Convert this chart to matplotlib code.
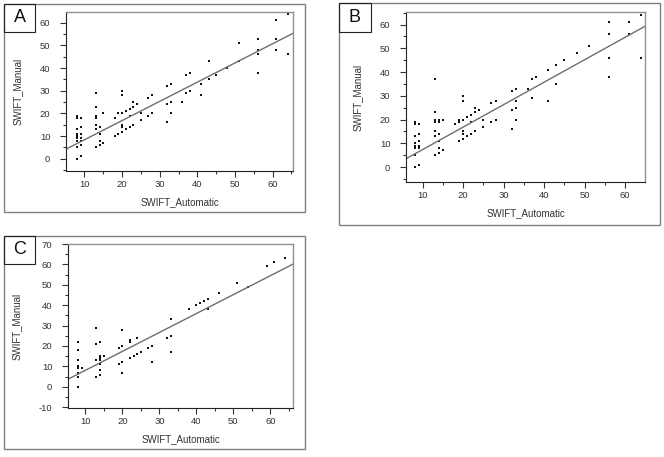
import numpy as np
import matplotlib.pyplot as plt
from matplotlib.patches import Rectangle
from matplotlib.ticker import MultipleLocator

plt.rcParams['font.family'] = ['Liberation Sans', 'DejaVu Sans']
plt.rcParams['axes.unicode_minus'] = False

# panel A
a_x = [8, 8, 8, 8, 8, 8, 8, 8, 8,
       9, 9, 9, 9, 9, 9, 9,
       13, 13, 13, 13, 13, 13, 13,
       14, 14, 14, 14, 15, 15, 18, 18, 19, 19, 19,
       20, 20, 20, 20, 20, 20, 21, 21, 22, 22, 22, 23, 23, 23, 24,
       25, 25, 27, 27, 28, 28, 28, 32, 32, 32, 33, 33, 33, 33, 36,
       37, 37, 38, 38, 41, 41, 43, 43, 45, 48, 51, 51,
       56, 56, 56, 56, 61, 61, 61, 64, 64]
a_y = [0, 5, 8, 9, 10, 11, 13, 18, 19,
       1, 6, 8, 9, 11, 14, 18,
       5, 13, 15, 18, 19, 23, 29,
       6, 8, 11, 14, 7, 20, 10, 18, 11, 20, 20,
       12, 14, 15, 20, 28, 30, 13, 21, 14, 19, 22, 15, 23, 25, 24,
       17, 20, 19, 27, 20, 20, 28, 16, 24, 32, 20, 20, 25, 33, 25,
       29, 37, 30, 38, 28, 33, 35, 43, 37, 40, 43, 51,
       38, 46, 48, 53, 48, 53, 61, 46, 64]

# panel B
b_x = [8, 8, 8, 8, 8, 8, 8, 8, 8,
       9, 9, 9, 9, 9, 9,
       13, 13, 13, 13, 13, 13, 13, 13, 13, 13,
       14, 14, 14, 14, 14, 14, 15, 15, 18, 19, 19, 19,
       20, 20, 20, 20, 20, 20, 21, 21, 22, 22, 22, 23, 23, 23, 24,
       25, 25, 27, 27, 28, 28, 32, 32, 32, 33, 33, 33, 33, 36,
       37, 37, 38, 41, 41, 43, 43, 45, 48, 51,
       56, 56, 56, 56, 61, 61, 64, 64]
b_y = [0, 0, 5, 8, 9, 10, 13, 18, 19,
       1, 8, 9, 11, 14, 18,
       5, 13, 15, 19, 19, 19.5, 20, 20, 23, 37,
       6, 8, 11, 14, 19, 20, 7, 20, 18, 11, 19, 20,
       12, 14, 15, 20, 28, 30, 13, 21, 14, 19, 22, 15, 23, 25, 24,
       17, 20, 19, 27, 20, 28, 16, 24, 32, 20, 25, 28, 33, 33,
       29, 37, 38, 28, 41, 35, 43, 45, 48, 51,
       38, 46, 56, 61, 56, 61, 46, 64]

# panel C
c_x = [8, 8, 8, 8, 8, 8, 8, 8, 9,
       13, 13, 13, 13, 14, 14, 14, 14, 14, 14, 14, 15,
       19, 19, 20, 20, 20, 20, 22, 22, 22, 23, 24, 24, 25, 27, 28, 28,
       32, 33, 33, 33, 38, 40, 41, 42, 43, 43, 46, 51, 54, 59, 61, 64]
c_y = [0, 5, 7, 9, 10, 13, 18, 22, 9,
       5, 13, 21, 29, 6, 8, 11, 13, 14, 15, 22, 15,
       11, 19, 7, 12, 20, 28, 14, 22, 23, 15, 16, 24, 17, 19, 12, 20,
       24, 17, 25, 33, 38, 40, 41, 42, 38, 43, 46, 51, 49, 59, 61, 63]

# fitted lines (slope, intercept)
fit_a = (0.847, -0.1)
fit_b = (0.946, -2.1)
fit_c = (0.928, -1.2)

W, H = 664, 457
fig = plt.figure(figsize=(W / 100, H / 100), dpi=100)


def fig_rect(l, t, r, b):
    return [l / W, 1 - b / H, (r - l) / W, (b - t) / H]


def panel(letter, box, lab, ax_px, xs, ys, fit, xlim, ylim, yticks):
    l, t, r, b = box
    fig.patches.append(Rectangle((l / W, 1 - b / H), (r - l) / W, (b - t) / H,
                                 transform=fig.transFigure, fill=False,
                                 edgecolor='#808080', lw=1))
    ll, lt, lr, lb = lab
    fig.patches.append(Rectangle((ll / W, 1 - lb / H), (lr - ll) / W, (lb - lt) / H,
                                 transform=fig.transFigure, fill=False,
                                 edgecolor='#222222', lw=0.8))
    fig.text((ll + lr) / 2 / W, 1 - (lt + lb) / 2 / H, letter, ha='center',
             va='center', fontsize=13, color='#111111')

    ax = fig.add_axes(fig_rect(*ax_px))
    ax.scatter(xs, ys, s=2, marker='s', color='#111111', linewidths=0)
    xx = np.array(xlim)
    ax.plot(xx, fit[0] * xx + fit[1], color='#6e6e6e', lw=1)
    ax.set_xlim(xlim)
    ax.set_ylim(ylim)
    ax.set_xticks([10, 20, 30, 40, 50, 60])
    ax.set_yticks(yticks)
    ax.xaxis.set_minor_locator(MultipleLocator(5))
    ax.yaxis.set_minor_locator(MultipleLocator(5))
    ax.tick_params(which='both', direction='out', labelsize=6.8, colors='#333333',
                   width=0.8)
    ax.tick_params(which='major', length=4.3)
    ax.tick_params(which='minor', length=2.2)
    ax.tick_params(axis='x', pad=2)
    ax.tick_params(axis='y', pad=7)
    for s in ['top', 'right']:
        ax.spines[s].set_color('#909090')
        ax.spines[s].set_linewidth(1)
    for s in ['left', 'bottom']:
        ax.spines[s].set_color('#222222')
        ax.spines[s].set_linewidth(0.8)
    ax.set_xlabel('SWIFT_Automatic', fontsize=7, color='#333333', labelpad=6)
    ax.set_ylabel('SWIFT_Manual', fontsize=7, color='#333333', labelpad=12)
    return ax


panel('A', (4, 4, 305, 212), (4, 4, 35, 32), (66, 12, 293, 171),
      a_x, a_y, fit_a, (5.1, 65.4), (-5.4, 64.7), range(0, 61, 10))
panel('B', (339, 3, 660, 225), (339, 3, 371, 32), (406, 12, 645, 182),
      b_x, b_y, fit_b, (5.9, 64.9), (-6.3, 65.3), range(0, 61, 10))
panel('C', (4, 236, 305, 449), (4, 236, 35, 264), (68, 244, 293, 408),
      c_x, c_y, fit_c, (5.3, 66.1), (-10.4, 69.6), range(-10, 71, 10))

fig.savefig('out.png', dpi=100)
